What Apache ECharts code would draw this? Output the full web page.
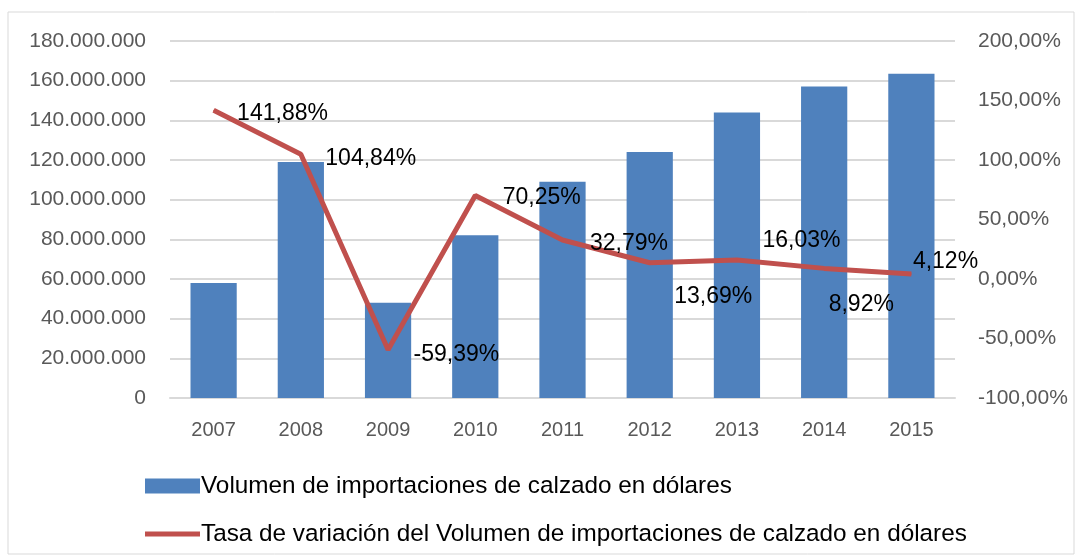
<!DOCTYPE html>
<html>
<head>
<meta charset="utf-8">
<script src="https://cdn.jsdelivr.net/npm/echarts@6/dist/echarts.min.js"></script>
<style>
    html, body { margin: 0; padding: 0; background: #fff; }
    #chart { width: 1082px; height: 560px; }
</style>
</head>
<body>
<div id="chart"></div>
<script>
// datos
var years = ['2007', '2008', '2009', '2010', '2011', '2012', '2013', '2014', '2015'];
var volumen = [58000000, 119000000, 48000000, 82000000, 109000000, 124000000, 144000000, 157000000, 163500000];
var tasa = [141.88, 104.84, -59.39, 70.25, 32.79, 13.69, 16.03, 8.92, 4.12];
// desplazamiento de etiquetas (como en excel)
var labelOffsets = [[18, 3], [19, 4], [20, 5], [22, 2], [22, 4], [19, 34], [20, -19], [-1, 36], [-4, -12]];

var fuente = '"Liberation Sans", Arial, sans-serif';

function miles(v) {
    return String(v).replace(/\B(?=(\d{3})+(?!\d))/g, '.');
}
function pct(v) {
    return v.toFixed(2).replace('.', ',') + '%';
}

var lineData = [];
for (var i = 0; i < tasa.length; i++) {
    lineData.push({
        value: tasa[i],
        label: { offset: labelOffsets[i] }
    });
}

var myChart = echarts.init(document.getElementById('chart'));
var option = {
    backgroundColor: '#fff',
    animation: false,
    textStyle: { fontFamily: fuente },
    graphic: [{
        type: 'rect',
        shape: { x: 8, y: 12, width: 1066, height: 542 },
        style: { fill: 'none', stroke: '#d9d9d9', lineWidth: 1 },
        silent: true
    }],
    grid: { left: 170, right: 127, top: 41, bottom: 162 },
    legend: {
        orient: 'vertical',
        left: 140,
        top: 469,
        itemWidth: 55,
        itemHeight: 15,
        itemGap: 24,
        textStyle: { fontSize: 24.3, color: '#000', fontFamily: fuente, padding: [0, 0, 0, -4] },
        data: [
            { name: 'Volumen de importaciones de calzado en dólares', icon: 'rect' },
            { name: 'Tasa de variación del Volumen de importaciones de calzado en dólares', icon: 'path://M0,0L55,0L55,5L0,5Z' }
        ]
    },
    xAxis: {
        type: 'category',
        data: years,
        axisTick: { show: false },
        axisLine: { lineStyle: { color: '#d9d9d9', width: 2 } },
        axisLabel: { color: '#595959', fontSize: 20, margin: 22 }
    },
    yAxis: [{
        type: 'value',
        min: 0,
        max: 180000000,
        interval: 20000000,
        axisLine: { show: false },
        axisTick: { show: false },
        splitLine: { lineStyle: { color: '#d9d9d9', width: 2 } },
        axisLabel: { color: '#595959', fontSize: 21, margin: 24, formatter: miles }
    }, {
        type: 'value',
        min: -100,
        max: 200,
        interval: 50,
        axisLine: { show: false },
        axisTick: { show: false },
        splitLine: { show: false },
        axisLabel: { color: '#595959', fontSize: 21, margin: 23, formatter: pct }
    }],
    series: [{
        name: 'Volumen de importaciones de calzado en dólares',
        type: 'bar',
        yAxisIndex: 0,
        barWidth: '53%',
        itemStyle: { color: '#4f81bd' },
        data: volumen
    }, {
        name: 'Tasa de variación del Volumen de importaciones de calzado en dólares',
        type: 'line',
        yAxisIndex: 1,
        symbol: 'circle',
        symbolSize: 1,
        showSymbol: true,
        lineStyle: { color: '#c0504d', width: 5 },
        itemStyle: { color: '#c0504d' },
        label: {
            show: true,
            position: 'right',
            color: '#000',
            fontSize: 23,
            fontFamily: fuente,
            formatter: function (p) { return pct(p.value); }
        },
        data: lineData
    }]
};
myChart.setOption(option);
</script>
</body>
</html>
